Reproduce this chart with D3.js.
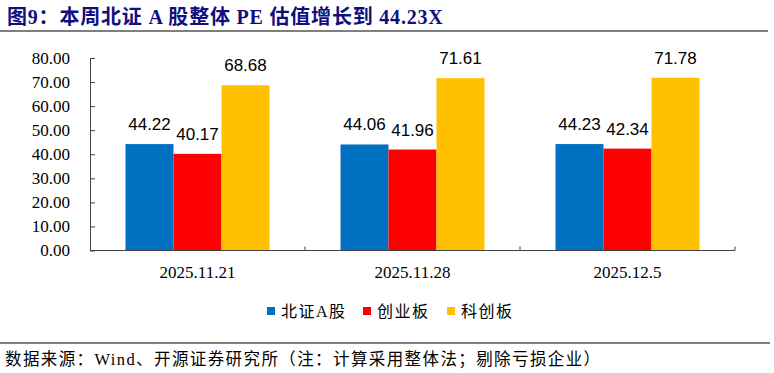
<!DOCTYPE html>
<html>
<head>
<meta charset="utf-8">
<script src="https://cdn.jsdelivr.net/npm/d3@7"></script>
<style>
  body { margin: 0; background: #fff; }
  svg { display: block; }
</style>
</head>
<body>
<div id="chart"></div>
<script>
// données du graphique
const categories = ["2025.11.21", "2025.11.28", "2025.12.5"];
const seriesNames = ["北证A股", "创业板", "科创板"];
const bjValues = [44.22, 44.06, 44.23];
const cybValues = [40.17, 41.96, 42.34];
const kcbValues = [68.68, 71.61, 71.78];
const yTicks = [0, 10, 20, 30, 40, 50, 60, 70, 80];

const titleText = "图9：本周北证 A 股整体 PE 估值增长到 44.23X";
const sourceText = "数据来源：Wind、开源证券研究所（注：计算采用整体法；剔除亏损企业）";

const width = 774;
const height = 373;
const colors = ["#0070C0", "#FF0000", "#FFC000"];
const serif = "'Liberation Serif', 'Noto Sans CJK SC', serif";

let svg = d3
  .select("#chart")
  .append("svg")
  .attr("width", width)
  .attr("height", height);

// titre + trait gris
svg
  .append("text")
  .attr("x", 7)
  .attr("y", 24)
  .style("font-family", serif)
  .style("font-weight", "bold")
  .style("font-size", "20px")
  .style("letter-spacing", "0.8px")
  .style("fill", "#0f0f80")
  .text(titleText);

svg
  .append("line")
  .attr("x1", 0)
  .attr("x2", 768)
  .attr("y1", 31)
  .attr("y2", 31)
  .style("stroke", "#7f7f7f")
  .style("stroke-width", 2);

// échelles
let x = d3.scaleBand().domain(categories).range([90, 735]);
let xSub = d3
  .scaleBand()
  .domain(seriesNames)
  .range([0, x.bandwidth()])
  .paddingOuter(0.74);
let y = d3.scaleLinear().domain([0, 80]).range([250.5, 58]);

// axe Y (graduations vers l'intérieur)
let yAxis = svg
  .append("g")
  .attr("transform", "translate(90,0)")
  .call(
    d3
      .axisLeft(y)
      .tickValues(yTicks)
      .tickFormat(d3.format(".2f"))
      .tickSizeInner(-5)
      .tickSizeOuter(0)
      .tickPadding(20)
  );
yAxis.selectAll("path, line").style("stroke", "#404040");
yAxis
  .selectAll("text")
  .style("font-family", serif)
  .style("font-size", "17px")
  .style("fill", "#000");

// barres
let data = seriesNames.map((name, i) => ({
  name: name,
  color: colors[i],
  values: [bjValues, cybValues, kcbValues][i],
}));

data.forEach((s) => {
  let g = svg.append("g");
  categories.forEach((c, j) => {
    let v = s.values[j];
    let bx = x(c) + xSub(s.name);
    g.append("rect")
      .attr("x", bx)
      .attr("y", y(v))
      .attr("width", xSub.bandwidth())
      .attr("height", y(0) - y(v))
      .style("fill", s.color);
    g.append("text")
      .attr("x", bx + xSub.bandwidth() / 2)
      .attr("y", y(v) - 14)
      .style("text-anchor", "middle")
      .style("font-family", "'Liberation Sans', sans-serif")
      .style("font-size", "17px")
      .style("fill", "#000")
      .text(v.toFixed(2));
  });
});

// axe X
let xAxis = svg.append("g");
xAxis
  .append("line")
  .attr("x1", 90)
  .attr("x2", 735)
  .attr("y1", y(0))
  .attr("y2", y(0))
  .style("stroke", "#404040");
categories.forEach((c) => {
  xAxis
    .append("line")
    .attr("x1", x(c) + x.bandwidth())
    .attr("x2", x(c) + x.bandwidth())
    .attr("y1", y(0))
    .attr("y2", y(0) - 4)
    .style("stroke", "#404040");
  xAxis
    .append("text")
    .attr("x", x(c) + x.bandwidth() / 2)
    .attr("y", 278)
    .style("text-anchor", "middle")
    .style("font-family", serif)
    .style("font-size", "17px")
    .style("fill", "#000")
    .text(c);
});

// légende
let legendX = [267, 363, 447];
let legend = svg.append("g");
data.forEach((s, i) => {
  legend
    .append("rect")
    .attr("x", legendX[i])
    .attr("y", 307)
    .attr("width", 8)
    .attr("height", 8)
    .style("fill", s.color);
  legend
    .append("text")
    .attr("x", legendX[i] + 14)
    .attr("y", 317)
    .style("font-family", serif)
    .style("font-size", "16px")
    .style("letter-spacing", "1.5px")
    .style("fill", "#000")
    .text(s.name);
});

// source
svg
  .append("line")
  .attr("x1", 0)
  .attr("x2", 770)
  .attr("y1", 343)
  .attr("y2", 343)
  .style("stroke", "#7f7f7f")
  .style("stroke-width", 2);

svg
  .append("text")
  .attr("x", 5)
  .attr("y", 365)
  .style("font-family", serif)
  .style("font-size", "16.5px")
  .style("letter-spacing", "1.4px")
  .style("fill", "#000")
  .text(sourceText);
</script>
</body>
</html>
